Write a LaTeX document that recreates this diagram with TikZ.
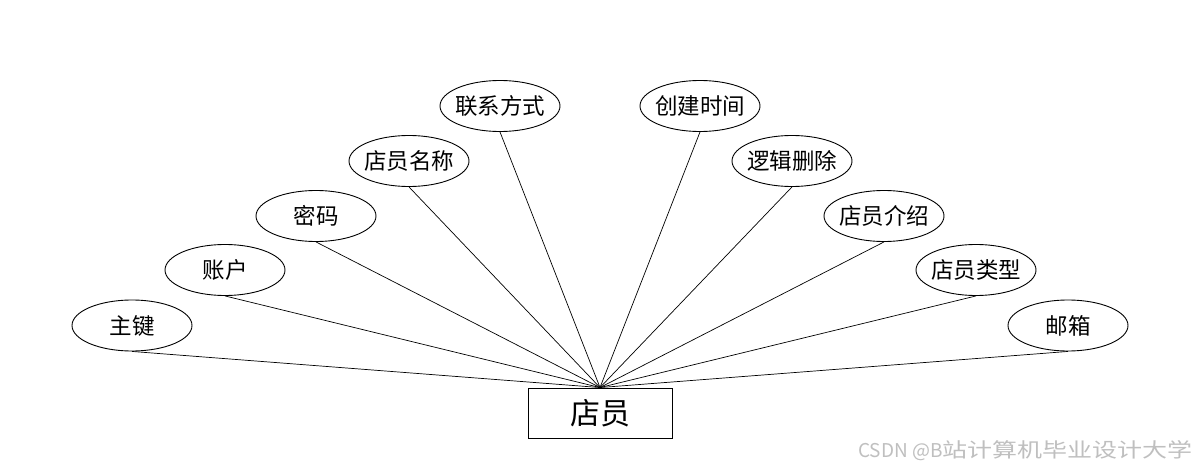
\documentclass[tikz,border=0pt]{standalone}
\usepackage{fontspec}
\newfontfamily\cjk{Noto Sans CJK SC}
\usetikzlibrary{shapes.geometric}
\newcommand\attrtxt[1]{\makebox[0pt]{#1}}
\begin{document}
\begin{tikzpicture}[x=1pt,y=-1pt,
  attr/.style={ellipse,draw=black,line width=0.9pt,minimum width=120pt,minimum height=51pt,inner sep=0pt,font=\cjk\fontsize{22.5}{22.5}\selectfont},
  ent/.style={rectangle,draw=black,line width=0.9pt,minimum width=144pt,minimum height=50pt,inner sep=0pt,font=\cjk\fontsize{30}{30}\selectfont},
  link/.style={draw=black,line width=0.7pt}]
\useasboundingbox (0,0) rectangle (1200,468);
\fill[white] (0,0) rectangle (1200,468);
\node[ent] (e) at (600,413) {店员};
\node[attr] (a1) at (132,325.5) {\attrtxt{主键}};
\node[attr] (a2) at (225,270) {\attrtxt{账户}};
\node[attr] (a3) at (316,216) {\attrtxt{密码}};
\node[attr] (a4) at (409,161) {\attrtxt{店员名称}};
\node[attr] (a5) at (500,106) {\attrtxt{联系方式}};
\node[attr] (a6) at (700,106) {\attrtxt{创建时间}};
\node[attr] (a7) at (792,161) {\attrtxt{逻辑删除}};
\node[attr] (a8) at (884,216) {\attrtxt{店员介绍}};
\node[attr] (a9) at (976,270) {\attrtxt{店员类型}};
\node[attr] (a10) at (1068,325.5) {\attrtxt{邮箱}};
\foreach \n in {a1,a2,a3,a4,a5,a6,a7,a8,a9,a10}
  \draw[link] (\n.south) -- (e.north);
\node[anchor=base east,text=black!25,font=\cjk,inner sep=0pt] (wm) at (1193,457) {{\fontsize{19}{19}\selectfont CSDN @B}\scalebox{1}[0.8]{\fontsize{25}{25}\selectfont 站计算机毕业设计大学}};
\end{tikzpicture}
\end{document}
